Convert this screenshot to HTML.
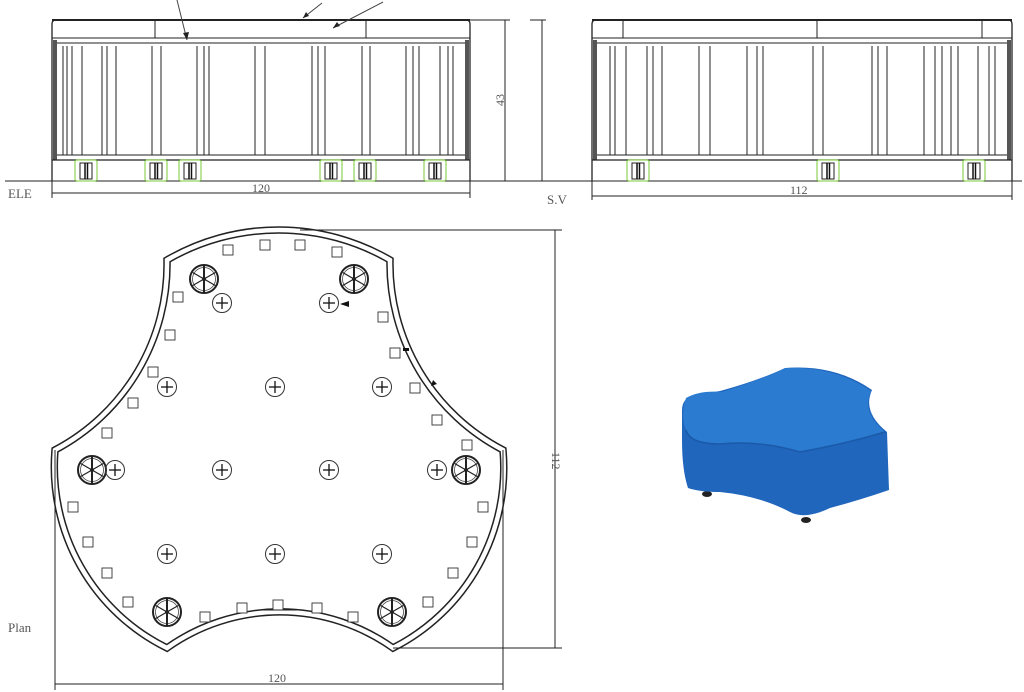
<!DOCTYPE html>
<html><head><meta charset="utf-8"><style>
html,body{margin:0;padding:0;background:#fff;}
svg{display:block}
text{font-family:"Liberation Serif",serif;fill:#555;}
</style></head><body>
<svg width="1024" height="692" viewBox="0 0 1024 692" xmlns="http://www.w3.org/2000/svg">
<defs>
<g id="wheel">
<circle r="14" fill="none" stroke="#222" stroke-width="2"/>
<circle r="11.5" fill="none" stroke="#444" stroke-width="0.8"/>
<g stroke="#222" stroke-width="1.2">
<line x1="0" y1="-13" x2="0" y2="13" stroke-width="2"/>
<line x1="-11.3" y1="-6.5" x2="11.3" y2="6.5"/>
<line x1="-11.3" y1="6.5" x2="11.3" y2="-6.5"/>
</g>
<circle r="2" fill="#222"/>
</g>
<g id="plus">
<circle r="9.5" fill="none" stroke="#333" stroke-width="1"/>
<line x1="-6" y1="0" x2="6" y2="0" stroke="#111" stroke-width="1.3"/>
<line x1="0" y1="-6" x2="0" y2="6" stroke="#111" stroke-width="1.3"/>
</g>
<g id="sq"><rect x="-5" y="-5" width="10" height="10" fill="#fff" stroke="#333" stroke-width="0.9"/></g>
<g id="leg"><rect x="0" y="0" width="22" height="21" rx="2" fill="#fff" stroke="#7c3" stroke-width="1"/>
<rect x="5" y="3" width="12" height="16" fill="none" stroke="#222" stroke-width="1"/>
<line x1="10" y1="3" x2="10" y2="19" stroke="#111" stroke-width="1.5"/><line x1="12.5" y1="3" x2="12.5" y2="19" stroke="#111" stroke-width="1.5"/></g>
</defs>

<!-- ELEVATION -->
<g stroke="#222" fill="none" stroke-width="1">
<path d="M52 181 V24 Q52 20 56 20 H466 Q470 20 470 24 V181" stroke-width="1.3"/>
<line x1="52" y1="20" x2="470" y2="20" stroke-width="2"/>
<line x1="52" y1="38" x2="470" y2="38"/>
<line x1="57" y1="43" x2="465" y2="43"/>
<line x1="155" y1="20" x2="155" y2="38"/><line x1="366" y1="20" x2="366" y2="38"/>
<rect x="53" y="40" width="4" height="120" fill="#555" stroke="none"/>
<rect x="465" y="40" width="4" height="120" fill="#555" stroke="none"/>
<line x1="57" y1="155" x2="465" y2="155"/>
<line x1="52" y1="160" x2="470" y2="160" stroke-width="1.3"/>
<g stroke-width="1">
<line x1="63" y1="46" x2="63" y2="155"/><line x1="67" y1="46" x2="67" y2="155"/><line x1="72" y1="46" x2="72" y2="155"/><line x1="82" y1="46" x2="82" y2="155"/>
<line x1="102" y1="46" x2="102" y2="155"/><line x1="107" y1="46" x2="107" y2="155"/><line x1="116" y1="46" x2="116" y2="155"/>
<line x1="152" y1="46" x2="152" y2="155"/><line x1="161" y1="46" x2="161" y2="155"/>
<line x1="197" y1="46" x2="197" y2="155"/><line x1="204" y1="46" x2="204" y2="155"/><line x1="209" y1="46" x2="209" y2="155"/>
<line x1="255" y1="46" x2="255" y2="155"/><line x1="265" y1="46" x2="265" y2="155"/>
<line x1="312" y1="46" x2="312" y2="155"/><line x1="318" y1="46" x2="318" y2="155"/><line x1="325" y1="46" x2="325" y2="155"/>
<line x1="362" y1="46" x2="362" y2="155"/><line x1="370" y1="46" x2="370" y2="155"/>
<line x1="406" y1="46" x2="406" y2="155"/><line x1="413" y1="46" x2="413" y2="155"/><line x1="419" y1="46" x2="419" y2="155"/>
<line x1="440" y1="46" x2="440" y2="155"/><line x1="448" y1="46" x2="448" y2="155"/><line x1="453" y1="46" x2="453" y2="155"/>
</g>
<line x1="5" y1="181" x2="540" y2="181"/>
<line x1="52" y1="193" x2="470" y2="193"/>
<line x1="52" y1="181" x2="52" y2="198"/><line x1="470" y1="181" x2="470" y2="198"/>
<line x1="470" y1="20" x2="510" y2="20"/>
<line x1="505" y1="20" x2="505" y2="181"/>
<line x1="177" y1="0" x2="187" y2="40" stroke="#444"/>
<line x1="303" y1="18" x2="322" y2="3" stroke="#444"/>
<line x1="333" y1="28" x2="383" y2="2" stroke="#444"/>
</g>
<g fill="#222"><path d="M187 40 L183 33 L189 32 Z"/><path d="M303 18 L306 12 L309 16 Z"/><path d="M333 28 L337 22 L340 26 Z"/></g>
<use href="#leg" x="75" y="160"/><use href="#leg" x="145" y="160"/><use href="#leg" x="179" y="160"/>
<use href="#leg" x="320" y="160"/><use href="#leg" x="354" y="160"/><use href="#leg" x="424" y="160"/>
<text x="8" y="198" font-size="13">ELE</text>
<text x="252" y="192" font-size="12">120</text>
<text x="0" y="0" font-size="12" transform="translate(504,106) rotate(-90)">43</text>

<!-- SIDE VIEW -->
<g stroke="#222" fill="none" stroke-width="1">
<path d="M592 181 V24 Q592 20 596 20 H1008 Q1012 20 1012 24 V181" stroke-width="1.3"/>
<line x1="592" y1="20" x2="1012" y2="20" stroke-width="2"/>
<line x1="592" y1="38" x2="1012" y2="38"/>
<line x1="597" y1="43" x2="1007" y2="43"/>
<line x1="623" y1="20" x2="623" y2="38"/><line x1="817" y1="20" x2="817" y2="38"/><line x1="982" y1="20" x2="982" y2="38"/>
<rect x="593" y="40" width="4" height="120" fill="#555" stroke="none"/>
<rect x="1007" y="40" width="4" height="120" fill="#555" stroke="none"/>
<line x1="597" y1="155" x2="1007" y2="155"/>
<line x1="592" y1="160" x2="1012" y2="160" stroke-width="1.3"/>
<line x1="610" y1="46" x2="610" y2="155"/><line x1="615" y1="46" x2="615" y2="155"/><line x1="626" y1="46" x2="626" y2="155"/>
<line x1="647" y1="46" x2="647" y2="155"/><line x1="653" y1="46" x2="653" y2="155"/><line x1="662" y1="46" x2="662" y2="155"/>
<line x1="699" y1="46" x2="699" y2="155"/><line x1="710" y1="46" x2="710" y2="155"/>
<line x1="747" y1="46" x2="747" y2="155"/><line x1="757" y1="46" x2="757" y2="155"/><line x1="763" y1="46" x2="763" y2="155"/>
<line x1="813" y1="46" x2="813" y2="155"/><line x1="823" y1="46" x2="823" y2="155"/>
<line x1="872" y1="46" x2="872" y2="155"/><line x1="878" y1="46" x2="878" y2="155"/><line x1="887" y1="46" x2="887" y2="155"/>
<line x1="924" y1="46" x2="924" y2="155"/><line x1="935" y1="46" x2="935" y2="155"/><line x1="942" y1="46" x2="942" y2="155"/><line x1="951" y1="46" x2="951" y2="155"/><line x1="958" y1="46" x2="958" y2="155"/>
<line x1="978" y1="46" x2="978" y2="155"/><line x1="989" y1="46" x2="989" y2="155"/><line x1="995" y1="46" x2="995" y2="155"/>
<line x1="530" y1="181" x2="1022" y2="181"/>
<line x1="592" y1="196" x2="1012" y2="196"/>
<line x1="592" y1="181" x2="592" y2="200"/><line x1="1012" y1="181" x2="1012" y2="200"/>
<line x1="530" y1="20" x2="546" y2="20"/>
<line x1="542" y1="20" x2="542" y2="181"/>
</g>
<use href="#leg" x="627" y="160"/><use href="#leg" x="817" y="160"/><use href="#leg" x="963" y="160"/>
<text x="547" y="204" font-size="13">S.V</text>
<text x="790" y="194" font-size="12">112</text>

<!-- PLAN -->
<g fill="none" stroke-linejoin="miter">
<path d="M167 260 A222 222 0 0 1 390 260 A210 210 0 0 0 503 450 A202 202 0 0 1 393 648 A195 195 0 0 0 167 648 A202 202 0 0 1 55 450 A210 210 0 0 0 167 260 Z" stroke="#222" stroke-width="7.5"/>
<path d="M167 260 A222 222 0 0 1 390 260 A210 210 0 0 0 503 450 A202 202 0 0 1 393 648 A195 195 0 0 0 167 648 A202 202 0 0 1 55 450 A210 210 0 0 0 167 260 Z" stroke="#fff" stroke-width="4.5"/>
</g>
<g>
<use href="#sq" x="228" y="250"/><use href="#sq" x="265" y="245"/><use href="#sq" x="300" y="245"/><use href="#sq" x="337" y="252"/>
<use href="#sq" x="178" y="297"/><use href="#sq" x="170" y="335"/><use href="#sq" x="153" y="372"/><use href="#sq" x="133" y="403"/><use href="#sq" x="107" y="433"/>
<use href="#sq" x="73" y="507"/><use href="#sq" x="88" y="542"/><use href="#sq" x="107" y="573"/><use href="#sq" x="128" y="602"/>
<use href="#sq" x="205" y="617"/><use href="#sq" x="242" y="608"/><use href="#sq" x="278" y="605"/><use href="#sq" x="317" y="608"/><use href="#sq" x="353" y="617"/>
<use href="#sq" x="428" y="602"/><use href="#sq" x="453" y="573"/><use href="#sq" x="472" y="542"/><use href="#sq" x="483" y="507"/>
<use href="#sq" x="467" y="445"/><use href="#sq" x="437" y="420"/><use href="#sq" x="415" y="388"/><use href="#sq" x="395" y="353"/><use href="#sq" x="383" y="317"/>
</g>
<line x1="262" y1="610" x2="297" y2="610" stroke="#222" stroke-width="1"/>
<use href="#wheel" x="204" y="279"/><use href="#wheel" x="354" y="279"/>
<use href="#wheel" x="92" y="470"/><use href="#wheel" x="466" y="470"/>
<use href="#wheel" x="167" y="612"/><use href="#wheel" x="392" y="612"/>
<use href="#plus" x="222" y="303"/><use href="#plus" x="329" y="303"/>
<use href="#plus" x="167" y="387"/><use href="#plus" x="275" y="387"/><use href="#plus" x="382" y="387"/>
<use href="#plus" x="115" y="470"/><use href="#plus" x="222" y="470"/><use href="#plus" x="329" y="470"/><use href="#plus" x="437" y="470"/>
<use href="#plus" x="167" y="554"/><use href="#plus" x="275" y="554"/><use href="#plus" x="382" y="554"/>
<g fill="#111"><path d="M340 304 L349 301 L349 307 Z"/><rect x="403" y="348" width="6" height="3"/><path d="M433 380 L437 384 L431 386 Z"/></g>
<g stroke="#222" stroke-width="1" fill="none">
<line x1="300" y1="230" x2="562" y2="230"/>
<line x1="393" y1="648" x2="562" y2="648"/>
<line x1="555" y1="230" x2="555" y2="648"/>
<line x1="55" y1="450" x2="55" y2="690"/>
<line x1="503" y1="450" x2="503" y2="690"/>
<line x1="55" y1="684" x2="503" y2="684"/>
</g>
<text x="8" y="632" font-size="13">Plan</text>
<text x="268" y="682" font-size="12">120</text>
<text x="0" y="0" font-size="12" transform="translate(552,452) rotate(90)">112</text>

<!-- 3D render -->
<g>
<ellipse cx="707" cy="494" rx="5" ry="3" fill="#222"/>
<ellipse cx="806" cy="520" rx="5" ry="3" fill="#222"/>
<path d="M682 410 Q682 398 695 395 L720 391 Q760 380 785 368 Q835 364 872 390 Q862 412 887 432 L889 490 Q860 500 830 508 Q805 520 790 512 Q760 496 720 492 Q700 492 688 488 Q682 470 682 440 Z" fill="#2066bd"/>
<path d="M686 398 Q700 390 722 392 Q760 380 786 368 Q834 366 871 391 Q861 412 885 432 Q845 444 800 452 Q760 440 720 444 Q690 444 686 430 Q680 415 686 398 Z" fill="#2b7bd0"/>
<path d="M686 430 Q690 444 720 444 Q760 440 800 452 Q845 444 885 432" fill="none" stroke="#1a5aa8" stroke-width="1.5"/>
</g>
</svg>
</body></html>
